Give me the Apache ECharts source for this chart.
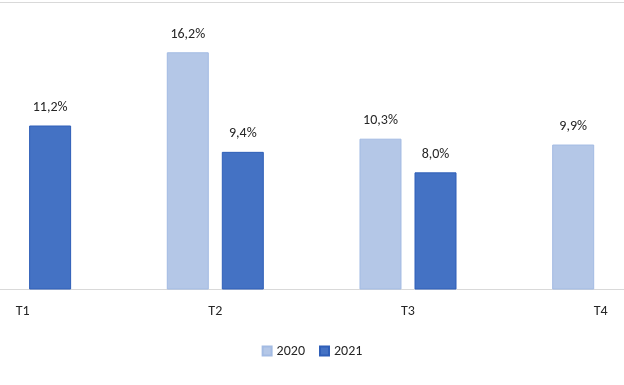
<!DOCTYPE html>
<html><head><meta charset="utf-8">
<script src="https://cdn.jsdelivr.net/npm/echarts@6/dist/echarts.min.js"></script>
<style>html,body{margin:0;padding:0;background:#fff}#c{width:624px;height:385px}</style>
</head><body><div id="c"></div>
<script>
const categories = ['T1', 'T2', 'T3', 'T4'];
const seriesNames = ['2020', '2021'];
const values2020 = [null, 16.2, 10.3, 9.9];
const values2021 = [11.2, 9.4, 8.0, null];
const yMax = 19.6;

const chart = echarts.init(document.getElementById('c'));
const fontFamily = 'Carlito, "Noto Sans", "Liberation Sans", sans-serif';
const fmt = p => p.value == null ? '' : p.value.toFixed(1).replace('.', ',') + '%';
const lineColor = '#d9d9d9';
chart.setOption({
  animation: false,
  textStyle: { fontFamily },
  grid: [
    { left: 0, right: 0, top: 2.5, bottom: 95.5, containLabel: false },
    { left: 22.6, right: 23.3, top: 2.5, bottom: 95.5, containLabel: false }
  ],
  legend: {
    bottom: 22, left: 'center', icon: 'rect', itemWidth: 9, itemHeight: 9, itemGap: 14,
    textStyle: { fontSize: 14, color: '#262626', fontFamily },
    data: seriesNames
  },
  xAxis: [
    { gridIndex: 0, type: 'category', data: categories,
      axisLine: { lineStyle: { color: lineColor, width: 1 } },
      axisTick: { show: false }, axisLabel: { show: false } },
    { gridIndex: 1, type: 'category', data: categories, boundaryGap: false,
      axisLine: { show: false }, axisTick: { show: false },
      axisLabel: { fontSize: 14, color: '#262626', margin: 15, fontFamily } }
  ],
  yAxis: [
    { gridIndex: 0, type: 'value', min: 0, max: yMax, interval: yMax,
      axisLabel: { show: false }, axisLine: { show: false }, axisTick: { show: false },
      splitLine: { show: true, lineStyle: { color: lineColor, width: 1 } } },
    { gridIndex: 1, type: 'value', min: 0, max: yMax, interval: yMax,
      axisLabel: { show: false }, axisLine: { show: false }, axisTick: { show: false },
      splitLine: { show: false } }
  ],
  series: [
    { name: seriesNames[0], type: 'bar', xAxisIndex: 1, yAxisIndex: 1, data: values2020, barWidth: 42, barGap: '31%',
      itemStyle: { color: '#b4c7e7', borderColor: '#a3bbe3', borderWidth: 1 },
      label: { show: true, position: 'top', distance: 11, formatter: fmt, fontSize: 14, color: '#262626', fontFamily } },
    { name: seriesNames[1], type: 'bar', xAxisIndex: 1, yAxisIndex: 1, data: values2021, barWidth: 42,
      itemStyle: { color: '#4472c4', borderColor: '#2f5fb8', borderWidth: 1 },
      label: { show: true, position: 'top', distance: 11, formatter: fmt, fontSize: 14, color: '#262626', fontFamily } }
  ]
});
</script></body></html>
